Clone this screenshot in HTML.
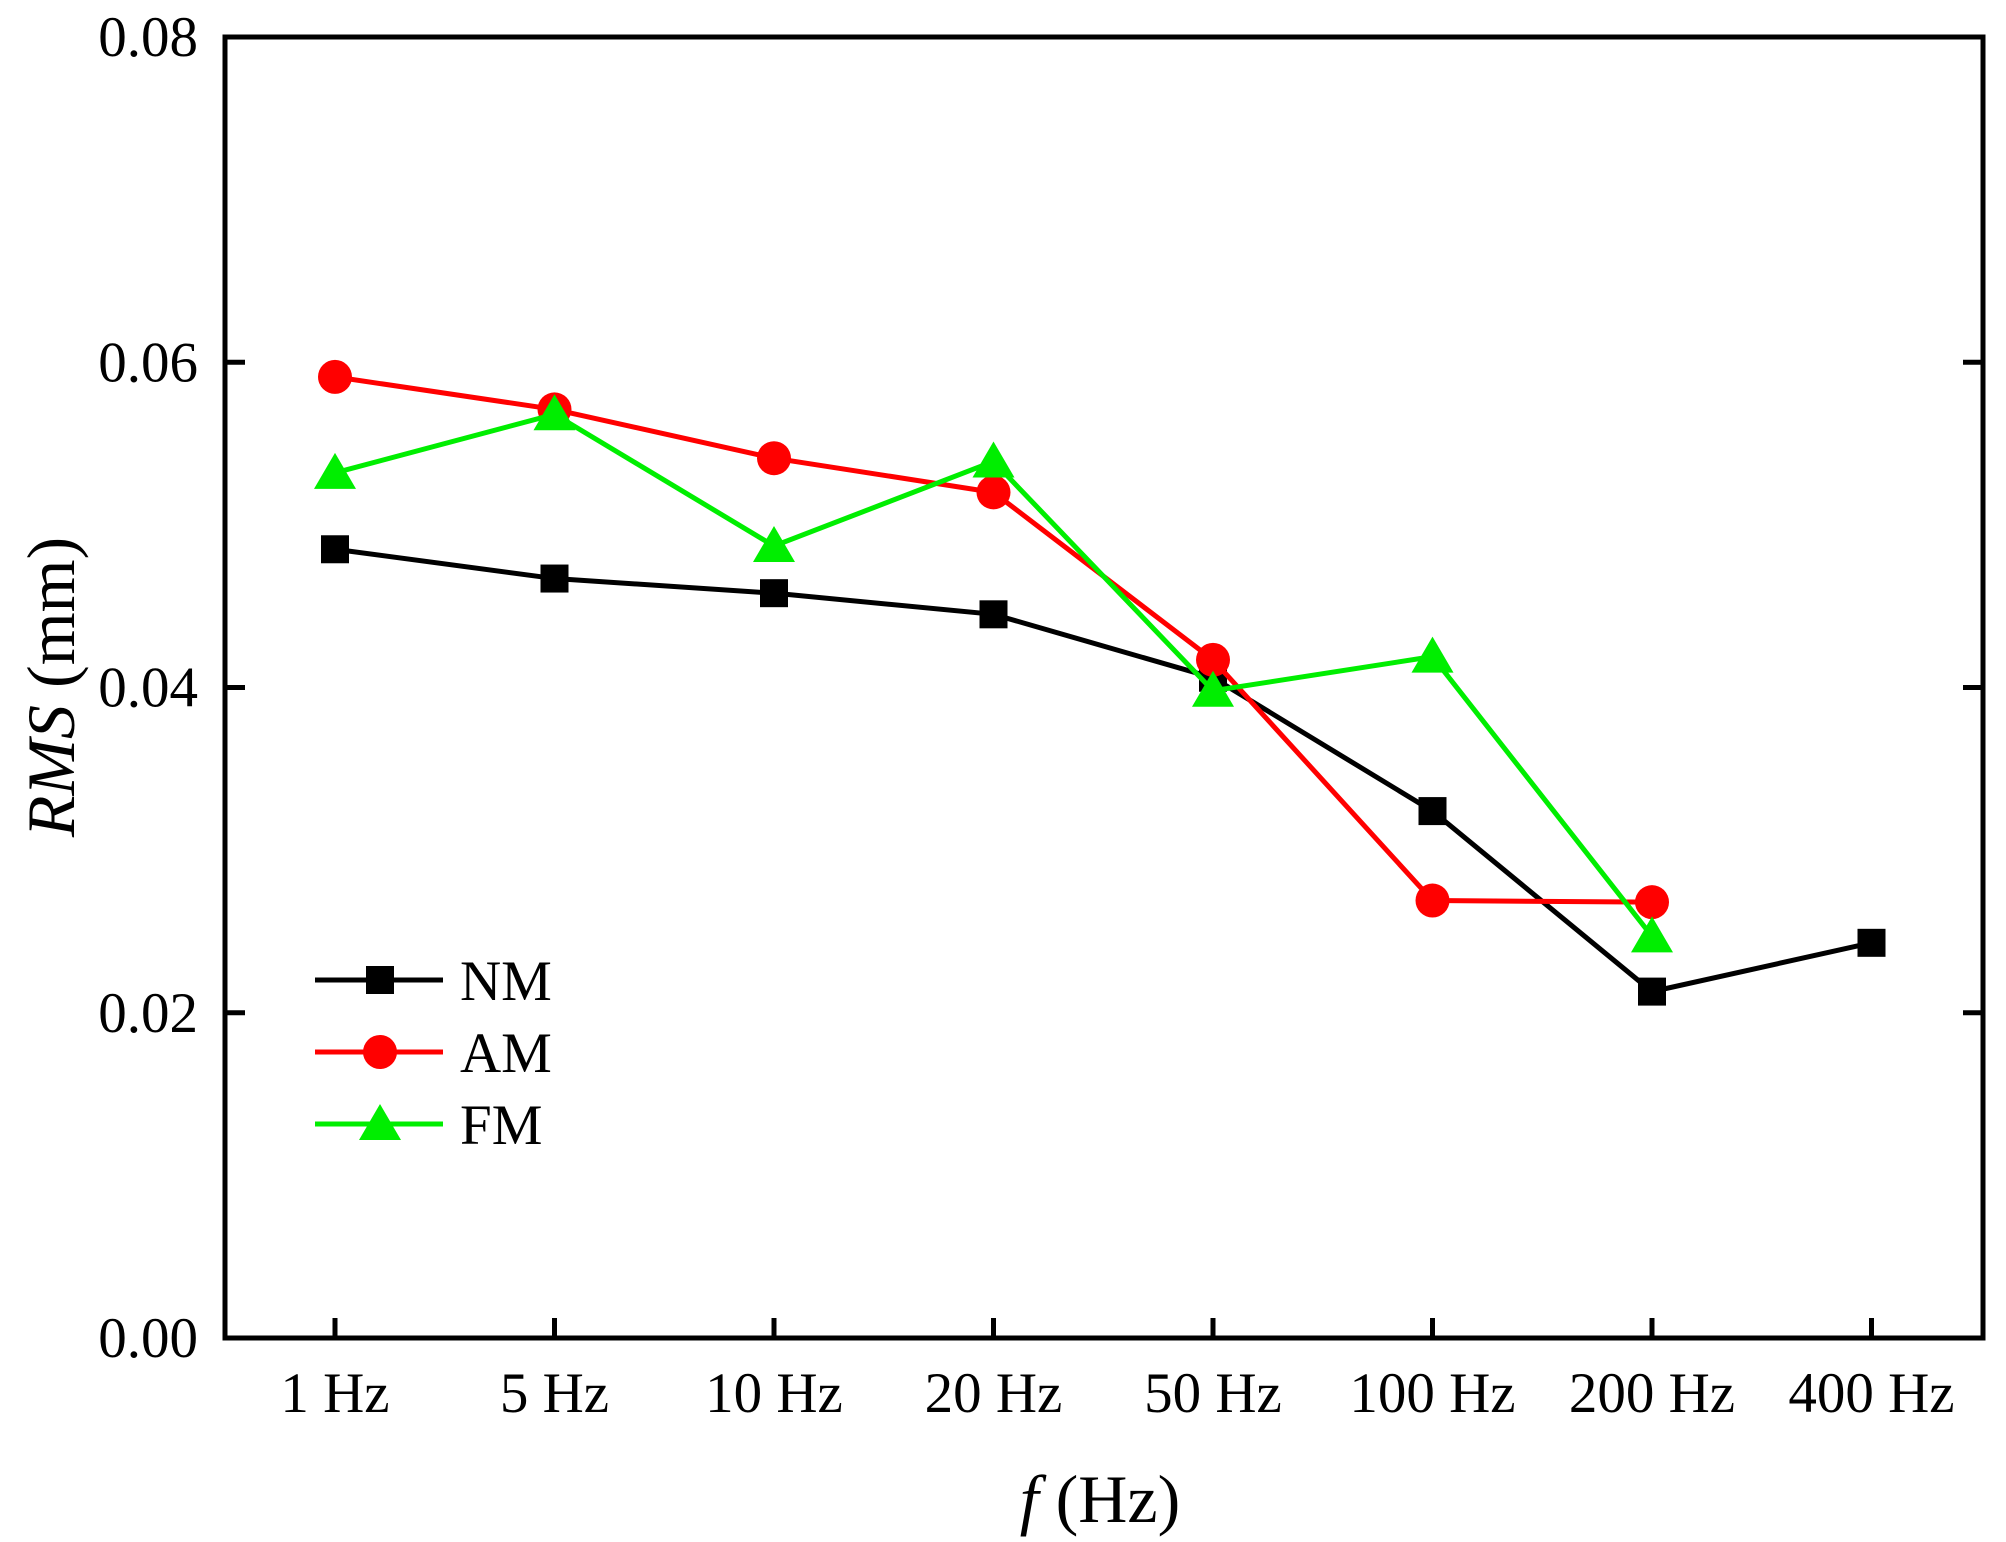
<!DOCTYPE html>
<html><head><meta charset="utf-8"><style>
html,body{margin:0;padding:0;background:#fff}
svg{display:block}
text{font-family:"Liberation Serif",serif;fill:#000}
</style></head><body>
<svg id="chart" width="2006" height="1542" viewBox="0 0 2006 1542" xmlns="http://www.w3.org/2000/svg"></svg>
<script>
const categories = ["1 Hz","5 Hz","10 Hz","20 Hz","50 Hz","100 Hz","200 Hz","400 Hz"];
const nmValues = [0.0485,0.0467,0.0458,0.0445,0.0406,0.0324,0.0213,0.0243];
const amValues = [0.0591,0.0571,0.0541,0.0520,0.0417,0.0269,0.0268,null];
const fmValues = [0.0532,0.0568,0.0487,0.0539,0.0398,0.0419,0.0247,null];
const yTicks = [0,0.02,0.04,0.06,0.08];
const yTickLabels = ["0.00","0.02","0.04","0.06","0.08"];

const NS="http://www.w3.org/2000/svg";
const svg=document.getElementById('chart');
const L=225,R=1983,T=37,B=1338;
function xs(i){return 335+i*219.5;}
function ys(v){return B-(v/0.08)*(B-T);}
function mk(tag,attrs,parent){const e=document.createElementNS(NS,tag);for(const k in attrs)e.setAttribute(k,attrs[k]);(parent||svg).appendChild(e);return e;}

const frame=mk('rect',{x:L,y:T,width:R-L,height:B-T,fill:'none',stroke:'#000','stroke-width':5});



yTicks.forEach((v,i)=>{
  const y=ys(v);
  const t1=mk('line',{x1:L,x2:L+20,y1:y,y2:y,stroke:'#000','stroke-width':5});
  
  
  const t2=mk('line',{x1:R-20,x2:R,y1:y,y2:y,stroke:'#000','stroke-width':5});
  
  
  const lb=mk('text',{x:198,y:y+19,'text-anchor':'end','font-size':57});
  lb.textContent=yTickLabels[i];
  
  
});
categories.forEach((c,i)=>{
  const x=xs(i);
  const t=mk('line',{x1:x,x2:x,y1:B-20,y2:B,stroke:'#000','stroke-width':5});
  
  
  const lb=mk('text',{x:x,y:1412,'text-anchor':'middle','font-size':57});
  lb.textContent=c;
  
  
});

const xt=mk('text',{x:1100,y:1522,'text-anchor':'middle','font-size':68});
xt.innerHTML='<tspan font-style="italic">f</tspan> (Hz)';


const yt=mk('text',{x:0,y:0,'text-anchor':'middle','font-size':68,transform:'translate(74,687) rotate(-90)'});
yt.innerHTML='<tspan font-style="italic">RMS</tspan> (mm)';



function marker(type,x,y,color,parent){
  let e;
  if(type==='square') e=mk('rect',{x:x-14,y:y-14,width:28,height:28,fill:color},parent);
  else if(type==='circle') e=mk('circle',{cx:x,cy:y,r:17,fill:color},parent);
  else e=mk('polygon',{points:`${x},${y-20} ${x-21},${y+16} ${x+21},${y+16}`,fill:color},parent);
  return e;
}
const series=[
  {name:'NM',vals:nmValues,color:'#000',m:'square'},
  {name:'AM',vals:amValues,color:'#ff0000',m:'circle'},
  {name:'FM',vals:fmValues,color:'#00ee00',m:'triangle'}
];
series.forEach((s,si)=>{
  const g=mk('g',{});
  
  
  const pts=[];
  s.vals.forEach((v,i)=>{if(v!==null)pts.push([xs(i),ys(v)]);});
  const pl=mk('polyline',{points:pts.map(p=>p.join(',')).join(' '),fill:'none',stroke:s.color,'stroke-width':5},g);
  
  
  pts.forEach(p=>{
    const m=marker(s.m,p[0],p[1],s.color,g);
    
    
  });
  const ly=980+si*72;
  const lg=mk('g',{});
  
  
  mk('line',{x1:315,x2:443,y1:ly,y2:ly,stroke:s.color,'stroke-width':5},lg);
  marker(s.m,380,ly,s.color,lg);
  const lt=mk('text',{x:460,y:ly+20,'font-size':57},lg);
  lt.textContent=s.name;
});
</script>
</body></html>
